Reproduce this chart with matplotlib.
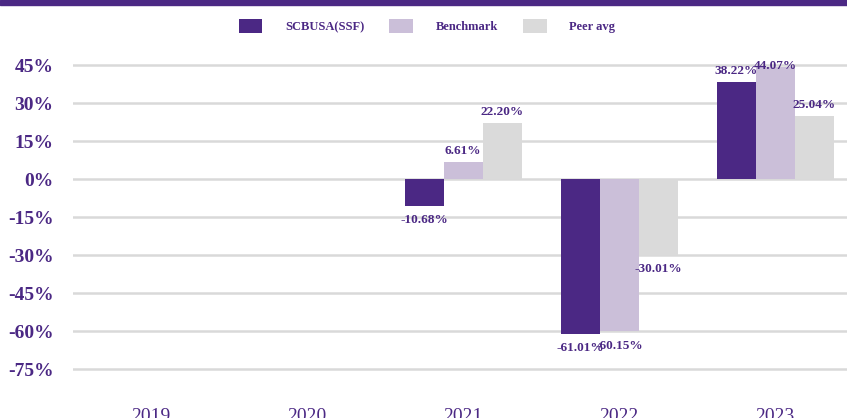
import numpy as np
import matplotlib.pyplot as plt
from matplotlib.patches import Rectangle

# Calendar-year returns (%)
years = ['2019', '2020', '2021', '2022', '2023']
fund = [np.nan, np.nan, -10.68, -61.01, 38.22]
benchmark = [np.nan, np.nan, 6.61, -60.15, 44.07]
peer_avg = [np.nan, np.nan, 22.20, -30.01, 25.04]
series_names = ['SCBUSA(SSF)', 'Benchmark', 'Peer avg']
yticks = [45, 30, 15, 0, -15, -30, -45, -60, -75]

purple = '#4b2884'
colors = ['#4b2884', '#cbbfd9', '#dadada']
serif = 'Liberation Serif'

fig = plt.figure(figsize=(8.47, 4.18), dpi=100)
ax = fig.add_axes([0.0862, 0.0868, 0.921, 0.788])

# purple strip along the top edge
fig.patches.append(Rectangle((0, 0.988), 1, 0.012, transform=fig.transFigure,
                             color=purple, zorder=0))

x = np.arange(len(years))
w = 0.25
label_cap = 44.6  # keep value labels inside the plot area
handles = []
for i, (vals, c) in enumerate(zip([fund, benchmark, peer_avg], colors)):
    bars = ax.bar(x + (i - 1) * w, vals, w, color=c, zorder=2)
    handles.append(bars)
    for xi, v in zip(x, vals):
        if np.isnan(v):
            continue
        xb = xi + (i - 1) * w
        if v >= 0:
            yl = min(v + 4.3, label_cap)
            ax.text(xb, yl, f'{v:.2f}%', ha='center', va='center',
                    fontsize=9.5, fontweight='bold', family=serif,
                    color=purple, zorder=3)
        else:
            ax.annotate(f'{v:.2f}%', (xb, v), xytext=(0, -6),
                        textcoords='offset points', ha='center', va='top',
                        fontsize=9.5, fontweight='bold', family=serif,
                        color=purple, zorder=3)

for t in yticks:
    ax.axhline(t, color='#d9d9d9', lw=1.8, zorder=1)

ax.set_xlim(-0.5, 4.5)
ax.set_ylim(-80, 50)
ax.set_yticks(yticks)
ax.set_yticklabels([f'{t}%' for t in yticks], fontsize=14, fontweight='bold',
                   family=serif, color=purple)
ax.set_xticks(x)
ax.set_xticklabels(years, fontsize=14, family=serif, color=purple)
ax.tick_params(axis='y', length=0, pad=14)
ax.tick_params(axis='x', length=0, pad=19)
for s in ax.spines.values():
    s.set_visible(False)

fig.legend(handles, series_names, loc='center', bbox_to_anchor=(0.504, 0.938),
           ncol=3, frameon=False, handlelength=1.9, handleheight=1.3,
           handletextpad=1.8, columnspacing=2.0,
           prop={'family': serif, 'weight': 'bold', 'size': 9})
for txt in fig.legends[0].get_texts():
    txt.set_color(purple)

fig.savefig('out.png', dpi=100)
